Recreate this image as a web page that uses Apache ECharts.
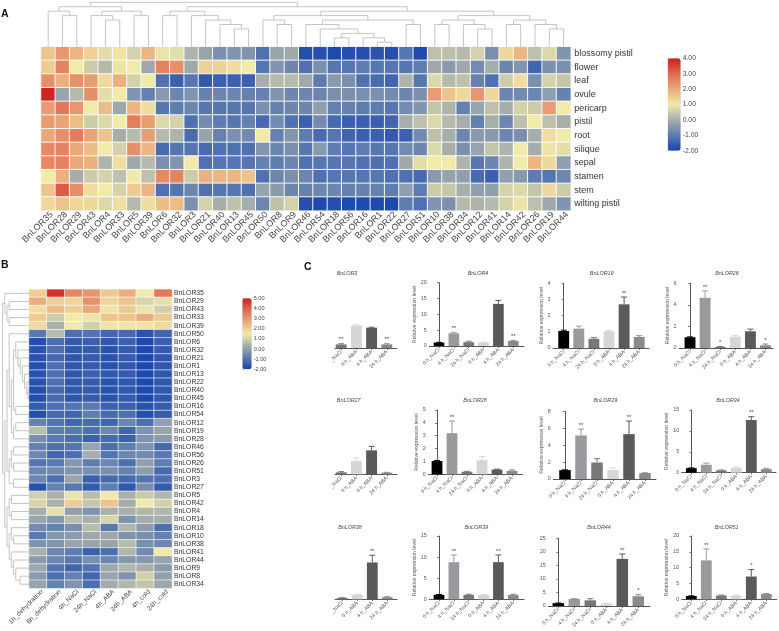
<!DOCTYPE html>
<html><head><meta charset="utf-8">
<script src="https://cdn.jsdelivr.net/npm/echarts@6/dist/echarts.min.js"></script>
<style>html,body{margin:0;padding:0;background:#fff}#c{width:779px;height:631px}</style>
</head><body><div id="c"></div>
<script>
// ---------- Panel A data ----------
const genesA = ["BnLOR35","BnLOR28","BnLOR29","BnLOR43","BnLOR4","BnLOR33","BnLOR5","BnLOR39","BnLOR6","BnLOR32","BnLOR3","BnLOR21","BnLOR40","BnLOR13","BnLOR45","BnLOR50","BnLOR8","BnLOR9","BnLOR46","BnLOR54","BnLOR18","BnLOR56","BnLOR16","BnLOR1","BnLOR22","BnLOR27","BnLOR51","BnLOR10","BnLOR38","BnLOR34","BnLOR12","BnLOR41","BnLOR14","BnLOR42","BnLOR26","BnLOR19","BnLOR44"];
const tissues = ["blossomy pistil","flower","leaf","ovule","pericarp","pistil","root","silique","sepal","stamen","stem","wilting pistil"];
const blossomyPistil = [1.6,2.3,1.8,1.4,0.8,1.1,0.6,1.8,0.9,0.8,0.1,-0.2,-0.6,-0.5,-0.5,-1.2,-0.2,-0.1,-1.8,-1.8,-1.9,-1.8,-1.8,-1.7,-1.8,-1.1,-1.9,0.3,0.3,0.2,0.6,-0.6,1.3,1.8,0.3,0.7,-0.5];
const flower = [1.5,2.6,1.0,0.5,0.2,0.9,1.0,-0.1,2.6,2.4,-0.1,1.4,1.4,1.2,1.0,-1.1,-0.5,-0.8,-1.2,-0.6,-1.1,-1.1,-1.0,-1.1,-1.1,-1.1,-1.0,-0.1,-0.4,-0.1,-0.7,0,-0.8,-0.5,-1.4,-0.6,-0.6];
const leaf = [2.4,1.9,2.4,2.2,1.3,1.9,0.6,1.0,-1.2,-1.5,-1.1,-1.6,-1.5,-1.5,-1.5,0,0.2,0.2,-0.1,-1.0,-0.4,-0.6,-1.2,-1.3,-1.4,0.1,-1.1,0.7,0.2,0.3,-0.9,-1.2,0.5,1.2,-0.6,0.6,0.4];
const ovule = [3.9,-0.2,0.2,2.4,0.8,1.0,-0.5,-0.9,-0.4,-0.8,-0.5,-0.9,-0.8,-0.8,-0.9,-0.9,-0.5,-0.8,-0.8,-0.8,-0.6,-0.6,-0.6,-0.6,-0.7,-0.8,-0.6,2.2,1.6,1.3,2.3,1.3,-0.8,-0.7,-0.8,-0.3,-0.9];
const pericarp = [2.2,2.8,2.3,1.0,1.7,-0.1,1.8,1.2,-1.1,-1.0,-0.8,-1.1,-1.1,-1.1,-1.1,-0.6,-0.9,-0.8,-0.8,-0.3,-0.9,-0.9,-1.0,-1.0,-1.1,-0.7,-0.5,0.4,0.1,-0.9,-0.2,0.3,0,0.6,0.5,2.2,1.0];
const pistil = [2.2,2.1,1.7,0.5,0.7,1.0,2.7,2.2,0.7,0.6,-1.2,-0.7,-1.0,-1.1,-0.9,-1.3,-0.7,-1.2,-1.5,-0.7,-1.3,-1.5,-1.5,-1.5,-1.4,0,0.3,0.7,0.2,0,-0.9,0,-0.8,0.3,1.0,0.3,0];
const root = [2.0,2.4,2.7,2.1,1.6,0,0.2,2.2,0.2,0.1,-1.3,-0.2,-0.9,-0.6,-0.7,1.0,-0.9,-0.5,-1.0,-1.3,-1.1,-1.4,-1.5,-1.5,-1.6,-1.5,-0.7,0.3,0,-0.8,-0.4,-0.4,-0.8,-0.6,0,1.2,1.0];
const silique = [2.5,2.6,2.0,1.7,1.0,0.6,2.4,1.8,-1.3,-1.1,-1.1,-1.3,-1.2,-1.2,-1.2,-0.5,-0.8,-0.6,-1.1,-0.4,-1.0,-1.1,-1.0,-1.1,-1.1,-0.7,-0.8,0.7,0,-0.6,-0.2,0.4,0.1,1.0,0,0.9,0.8];
const sepal = [2.5,2.6,2.0,1.9,0.1,1.2,-0.1,0.2,-0.6,-0.5,1.0,-1.2,-1.1,-1.1,-1.1,-0.9,-1.0,-0.8,-1.2,-1.1,-1.1,-1.1,-1.2,-1.2,-1.2,-0.1,0.8,1.0,1.0,0.1,-1.1,-0.8,0.1,1.0,1.8,1.3,-0.3];
const stamen = [1.0,1.9,0,0.5,0.6,0.3,1.0,0.3,2.5,2.6,0.5,1.9,1.8,1.8,1.6,-1.2,-0.8,-0.6,-0.8,-1.2,-1.1,-1.1,-1.1,-1.1,-1.2,-1.2,-1.3,-0.4,-0.2,-0.3,-1.3,-1.5,-0.3,-0.4,-1.0,-1.1,-0.8];
const stem = [1.6,3.2,2.4,1.2,1.0,0.6,1.5,1.8,-1.2,-1.1,-0.8,-1.2,-1.1,-1.1,-1.2,-0.2,-0.4,-0.8,-0.9,-0.8,-0.8,-0.9,-0.9,-0.9,-1.0,-0.3,-1.0,0.5,0.4,0,-0.3,-0.3,0.6,0.7,0.4,1.3,0.5];
const wiltingPistil = [1.3,1.6,1.3,1.3,0.7,1.2,0.2,1.2,1.7,1.7,-0.6,0.6,0,0.3,0,-0.8,0.3,0.6,-1.8,-1.9,-1.8,-1.9,-1.9,-1.9,-1.9,-1.0,-1.2,-0.5,-0.6,0.2,0.1,0.2,0.6,0.9,0.3,-0.1,-0.5];
const heatA = [blossomyPistil,flower,leaf,ovule,pericarp,pistil,root,silique,sepal,stamen,stem,wiltingPistil];
// dendrogram: [merge level, child, child]; a number is a leaf index
const treeA = [10,
  [9,[8,0,[7,1,2]],[8,[7,3,[6,4,5]],[7,6,7]]],
  [9,[8,[7,8,9],[7,10,[6,11,[5,12,[4,13,14]]]]],
     [8,[7,[6,15,[5,16,17]],[6,[5,18,[4,19,[3,[2,20,21],[2,22,[1,23,24]]]]],[5,25,26]]],
        [7,[6,[5,27,28],[5,29,[4,30,31]]],[6,[5,32,33],[5,34,[4,35,36]]]]]]];
const legendTicksA = [-2,4,1];

// ---------- Panel B data ----------
const genesB = ["BnLOR35","BnLOR29","BnLOR43","BnLOR33","BnLOR39","BnLOR50","BnLOR6","BnLOR32","BnLOR21","BnLOR1","BnLOR13","BnLOR22","BnLOR40","BnLOR45","BnLOR16","BnLOR54","BnLOR12","BnLOR19","BnLOR28","BnLOR46","BnLOR56","BnLOR26","BnLOR51","BnLOR3","BnLOR27","BnLOR5","BnLOR42","BnLOR4","BnLOR14","BnLOR18","BnLOR10","BnLOR38","BnLOR41","BnLOR44","BnLOR9","BnLOR8","BnLOR34"];
const treatments = ["1h_dehydration","6h_dehydration","4h_NaCl","24h_NaCl","4h_ABA","24h_ABA","4h_cold","24h_cold"];
const heatB = [
[2.0,4.7,3.3,3.0,2.1,2.6,1.5,3.6],[2.6,2.0,1.9,3.1,1.9,2.2,1.1,1.3],[1.7,2.3,2.0,2.7,1.6,2.1,1.4,1.0],[2.1,0.9,1.5,1.4,2.2,2.2,2.6,2.1],[1.8,0.4,1.5,1.0,1.6,1.6,1.6,1.8],
[-0.9,0.6,-1.1,-1.0,-1.3,-1.2,-1.7,-1.3],[-1.8,-1.1,-1.5,-1.4,-1.6,-1.4,-1.9,-1.4],[-1.7,-1.1,-1.6,-1.5,-1.7,-1.5,-1.9,-1.5],[-1.7,-1.2,-1.6,-1.5,-1.7,-1.5,-1.9,-1.6],[-1.8,-1.1,-1.6,-1.5,-1.7,-1.6,-1.9,-1.6],
[-1.7,-1.1,-1.6,-1.4,-1.6,-1.5,-1.9,-1.6],[-1.7,-1.1,-1.6,-1.5,-1.7,-1.6,-1.9,-1.6],[-1.8,-1.2,-1.6,-1.5,-1.7,-1.6,-1.9,-1.6],[-1.8,-1.2,-1.6,-1.5,-1.7,-1.5,-1.9,-1.6],[-1.5,-1.1,-1.0,-0.9,-1.4,-1.4,-1.7,-1.5],
[-1.8,-1.2,-1.3,-0.8,-1.2,-1.1,-1.8,-1.5],[-0.7,-1.0,-1.3,-1.2,-1.3,-0.6,-1.1,0.0],[0.6,-0.8,-0.9,-1.1,-0.6,-1.3,-0.3,0.1],[-0.4,-0.9,-1.1,-1.4,-1.2,-1.4,-0.3,-0.1],[-0.7,-1.1,-1.0,0.1,-1.1,-0.8,-0.3,-1.2],
[-0.6,-1.3,-1.1,0.3,-1.0,-0.6,-0.5,-0.9],[-1.0,-0.9,-0.2,-0.8,-0.6,-1.1,0.0,-0.8],[-0.6,-0.5,-0.3,-0.4,-0.4,-0.7,-0.1,-1.2],[-0.6,-1.1,0.1,-1.4,-1.2,-1.2,-1.0,-1.1],[-1.7,-0.7,-0.9,-1.5,-0.8,-1.6,-0.4,-1.5],
[1.0,0.4,1.4,0.6,1.5,0.4,0.9,0.5],[1.1,0.4,2.0,0.8,2.2,0.3,1.5,1.0],[0.3,1.3,0.0,-0.3,0.4,0.4,0.5,0.5],[0.1,-0.2,0.6,0.4,1.1,-0.3,0.3,0.3],[-0.5,-0.7,-0.4,0.6,-0.9,0.5,-0.1,-1.1],
[-0.9,-0.2,-0.1,0.2,0.2,-0.3,-0.4,-0.7],[-0.3,-0.3,0.1,0.1,0.1,0.6,-0.4,-0.6],[0.4,-0.6,-0.8,-1.4,-1.1,0.5,-0.5,1.5],[-0.1,-0.6,-0.9,-0.4,-0.6,-0.2,-0.2,0.1],[0.2,-1.0,-1.3,-1.0,0.2,0.5,0.4,-0.1],
[-0.1,-1.1,-0.7,-1.3,0.1,-0.3,1.0,0.0],[0.1,-0.7,-0.3,-1.1,0.3,0.5,0.8,0.2]];
const treeB = [12,
  [11,0,[10,[9,1,2],[9,3,4]]],
  [11,[10,
        [9,5,[8,[7,[6,6,[5,7,[4,8,[3,9,[2,10,[1,11,[0.5,12,13]]]]]]],[6,14,15]],[7,[6,16,17],18]]],
        [9,[8,[7,19,20],[7,21,22]],[7,23,24]]],
      [10,[9,[8,25,26],[8,27,28]],[9,[8,29,[7,30,31]],[8,32,[7,33,[6,34,[4,35,36]]]]]]]];
const legendTicksB = [-2,5,1];

// ---------- Panel C data ----------
const catsFull = ["0 h_NaCl","4 h_NaCl","24 h_NaCl","0 h_ABA","4 h_ABA","24 h_ABA"];
const catsCut = ["_NaCl","0 h_ABA","4 h_ABA","24 h_ABA"];
const fullIdx = [0,1,2,3,4,5], cutIdx = [2,3,4,5];
const BnLOR3_val=[.16,1,.91,.16],   BnLOR3_err=[.03,.04,.02,.03],  BnLOR3_sig=["**","","","**"];
const BnLOR4_val=[1.1,4,1.2,1.15,13.3,1.6], BnLOR4_err=[.05,.3,.3,.05,1.1,.2], BnLOR4_sig=["","**","","","","**"];
const BnLOR19_val=[1.05,1.2,.57,1.03,2.7,.68], BnLOR19_err=[.05,.15,.07,.05,.45,.08], BnLOR19_sig=["","","","","**",""];
const BnLOR26_val=[1,4.65,.1,1.05,1.55,.25], BnLOR26_err=[.03,.65,.05,.1,.2,.12], BnLOR26_sig=["","**","*","","","*"];
const BnLOR27_val=[.15,1,1.8,.12], BnLOR27_err=[.05,.25,.3,.03], BnLOR27_sig=["","","",""];
const BnLOR28_val=[1.03,3.2,.2,1.1,.37,.27], BnLOR28_err=[.05,.95,.03,.28,.03,.08], BnLOR28_sig=["","**","","","",""];
const BnLOR29_val=[1.05,5.15,1.95,1.05,5.3,.7], BnLOR29_err=[.03,.75,.45,.25,1.55,.03], BnLOR29_sig=["","**","","","**",""];
const BnLOR34_val=[1.1,1.9,.55,1.15,12.6,.85], BnLOR34_err=[.05,.4,.1,.2,.8,.2], BnLOR34_sig=["","","","","**",""];
const BnLOR38_val=[.3,1,7.9,.45], BnLOR38_err=[.05,.08,1.55,.1], BnLOR38_sig=["","","**",""];
const BnLOR39_val=[1.05,8.8,1.05,1.05,8.8,1.05], BnLOR39_err=[.1,1.7,.15,.1,1.7,.15], BnLOR39_sig=["","**","","","**",""];
const BnLOR44_val=[1.05,2.6,2.1,.9,17.4,3.6], BnLOR44_err=[.05,.15,.6,.15,1.8,.6], BnLOR44_sig=["","","","","**","*"];
const BnLOR51_val=[1.05,12.3,1.2,1.15,7.2,1.65], BnLOR51_err=[.05,3.6,.15,.15,2.2,.15], BnLOR51_sig=["","**","","","*",""];

// ---------- Styles / layout ----------
const FONT = '"Liberation Sans", Arial, sans-serif';
const heatStops = ['#1743ad','#5d7cb0','#a6aeab','#f2eaa9','#eba97a','#de6a50','#cf1d1d'];
const barColors = ['#000000','#9a9a9e','#777777','#d6d6d6','#5a5a5a','#8a8a8a'];
const panelC = [
 {t:'BnLOR3', v:BnLOR3_val, e:BnLOR3_err, s:BnLOR3_sig, l:335,r:397,base:348,  h:67, max:3, tc:347,ty:270.5,c0:341.2,st:15.2},
 {t:'BnLOR4', v:BnLOR4_val, e:BnLOR4_err, s:BnLOR4_sig, l:429.3,r:524,base:346,h:63.3,max:20,iv:5,tc:478,ty:270.5,c0:439,st:14.85,yt:1,g:9},
 {t:'BnLOR19',v:BnLOR19_val,e:BnLOR19_err,s:BnLOR19_sig,l:553,r:649,base:348,  h:64.7,max:4,iv:1,tc:601.7,ty:270.5,c0:563.7,st:15.1,yt:1,g:6},
 {t:'BnLOR26',v:BnLOR26_val,e:BnLOR26_err,s:BnLOR26_sig,l:679,r:773,base:348,  h:64.7,max:6,iv:2,tc:727,ty:270.5,c0:690,st:15.1,yt:1,g:6},
 {t:'BnLOR27',v:BnLOR27_val,e:BnLOR27_err,s:BnLOR27_sig,l:335,r:397,base:474.3,h:66.5,max:5,tc:348.7,ty:397.5,c0:341.2,st:15.2},
 {t:'BnLOR28',v:BnLOR28_val,e:BnLOR28_err,s:BnLOR28_sig,l:428.3,r:522.7,base:474.3,h:64.3,max:5,iv:1,tc:475,ty:397.5,c0:437,st:15,yt:1,g:7.5},
 {t:'BnLOR29',v:BnLOR29_val,e:BnLOR29_err,s:BnLOR29_sig,l:553.3,r:656,base:479,h:67.7,max:8,iv:2,tc:605.3,ty:397.5,c0:565,st:16,yt:1,g:6.5},
 {t:'BnLOR34',v:BnLOR34_val,e:BnLOR34_err,s:BnLOR34_sig,l:681.7,r:776,base:472.7,h:62.7,max:15,iv:5,tc:728,ty:397.5,c0:691.3,st:15,yt:1,g:9},
 {t:'BnLOR38',v:BnLOR38_val,e:BnLOR38_err,s:BnLOR38_sig,l:335,r:397,base:599.3,h:70,max:15,tc:350,ty:524.5,c0:342.3,st:15},
 {t:'BnLOR39',v:BnLOR39_val,e:BnLOR39_err,s:BnLOR39_sig,l:429.3,r:524,base:599.3,h:63.3,max:15,iv:5,tc:476.3,ty:524.5,c0:439,st:14.85,yt:1,g:9},
 {t:'BnLOR44',v:BnLOR44_val,e:BnLOR44_err,s:BnLOR44_sig,l:548.3,r:650,base:606,h:67.7,max:25,iv:5,tc:599,ty:524.5,c0:558.3,st:16},
 {t:'BnLOR51',v:BnLOR51_val,e:BnLOR51_err,s:BnLOR51_sig,l:681.7,r:776.7,base:599.3,h:63.3,max:20,iv:5,tc:726.7,ty:524.5,c0:691.3,st:15,yt:1,g:9}
];

// ---------- Helpers ----------
function dendroLinks(tree){
  const links=[];
  (function walk(n){
    if(typeof n==='number') return {p:n+0.5,h:0};
    const a=walk(n[1]), b=walk(n[2]);
    links.push([a.p,a.h,b.p,b.h,n[0]]);
    return {p:(a.p+b.p)/2,h:n[0]};
  })(tree);
  return links;
}
const grids=[],xAxes=[],yAxes=[],series=[],titles=[],visualMaps=[];
function addGrid(g,x,y){grids.push(g);const i=grids.length-1;xAxes.push(Object.assign({gridIndex:i},x));yAxes.push(Object.assign({gridIndex:i},y));return i;}
const hiddenVal=(min,max,extra)=>Object.assign({type:'value',min,max,show:false},extra||{});

function addHeat(box,cols,rows,matrix,xLabel,yLabel,vm){
  const i=addGrid(box,
    {type:'category',data:cols,axisLine:{show:false},axisTick:{show:false},splitLine:{show:false},axisLabel:{show:false}},
    {type:'category',data:rows,inverse:true,position:'right',axisLine:{show:false},axisTick:{show:false},splitLine:{show:false},
     axisLabel:Object.assign({interval:0,color:'#333',fontFamily:FONT},yLabel)});
  // rotated column labels sit slightly right of the column centres
  addGrid(Object.assign({},box,{left:box.left+vm.dx}),
    {type:'category',data:cols,position:'bottom',axisLine:{show:false},axisTick:{show:false},splitLine:{show:false},
     axisLabel:Object.assign({interval:0,rotate:45,color:'#444',fontFamily:FONT},xLabel)},
    hiddenVal(0,1));
  const data=[];matrix.forEach((r,y)=>r.forEach((v,x)=>data.push([x,y,v])));
  series.push({type:'heatmap',xAxisIndex:i,yAxisIndex:i,data,silent:true,itemStyle:{borderColor:'#fff',borderWidth:vm.bw},emphasis:{disabled:true}});
  visualMaps.push({type:'continuous',seriesIndex:series.length-1,min:vm.min,max:vm.max,inRange:{color:heatStops},show:true,calculable:false,hoverLink:false,
    left:vm.left,top:vm.top,itemWidth:vm.w,itemHeight:vm.h,padding:0,text:null,showLabel:false});
  addGrid({left:vm.left,top:vm.top,width:vm.w,height:vm.h},hiddenVal(0,1),
    {type:'value',min:vm.min,max:vm.max,interval:vm.iv,position:'right',splitLine:{show:false},axisLine:{show:false},axisTick:{length:1.5,lineStyle:{color:'#555',width:.6}},
     axisLabel:{margin:2,fontSize:vm.fs,color:'#444',fontFamily:FONT,formatter:v=>v.toFixed(2)}});
}
function addDendro(box,tree,maxL,npos,horizontal){
  const i=horizontal
    ? addGrid(box,hiddenVal(0,npos),hiddenVal(0,maxL))
    : addGrid(box,hiddenVal(0,maxL,{inverse:true}),hiddenVal(0,npos,{inverse:true}));
  series.push({type:'custom',xAxisIndex:i,yAxisIndex:i,silent:true,clip:false,data:dendroLinks(tree),
    renderItem(p,api){
      const c=(pos,h)=>horizontal?api.coord([pos,h]):api.coord([h,pos]);
      const p1=api.value(0),h1=api.value(1),p2=api.value(2),h2=api.value(3),h=api.value(4);
      return {type:'polyline',shape:{points:[c(p1,h1),c(p1,h),c(p2,h),c(p2,h2)]},style:{stroke:'#bdbdbd',lineWidth:.9,fill:null}};
    }});
}

// Panel A
addHeat({left:41,top:46.7,width:529.8,height:164},genesA,tissues,heatA,
  {fontSize:9,margin:2.5},{fontSize:9,margin:3.5},
  {min:legendTicksA[0],max:legendTicksA[1],iv:legendTicksA[2],left:667.7,top:58.3,w:13,h:92.4,fs:6.8,bw:.9,dx:3.5});
addDendro({left:41,top:2.3,width:529.8,height:44.4},treeA,10,37,true);

// Panel B
addHeat({left:29,top:289.3,width:143,height:299},treatments,genesB,heatB,
  {fontSize:6.6,margin:2.5},{fontSize:6.8,margin:2},
  {min:legendTicksB[0],max:legendTicksB[1],iv:legendTicksB[2],left:242.3,top:298.3,w:9.4,h:71,fs:5.6,bw:.6,dx:4});
addDendro({left:2.6,top:289.3,width:26.4,height:299},treeB,12,37,false);

// Panel C
panelC.forEach(c=>{
  const idx = c.v.length===4?cutIdx:fullIdx, names = c.v.length===4?catsCut:catsFull;
  const pos = c.v.map((_,k)=>k);
  const axisStyle={lineStyle:{color:'#444',width:.9}};
  const hasY = !!c.iv;
  const i=addGrid({left:c.l,top:c.base-c.h,width:c.r-c.l,height:c.h},
    {type:'value',min:(c.l-c.c0)/c.st,max:(c.r-c.c0)/c.st,splitLine:{show:false},axisLine:Object.assign({onZero:false},axisStyle),
     axisTick:{customValues:pos,length:2,lineStyle:{color:'#444',width:.7}},
     axisLabel:{customValues:pos,formatter:v=>names[v],rotate:45,fontSize:5.2,color:'#555',margin:3,fontFamily:FONT}},
    hasY?{type:'value',min:0,max:c.max,interval:c.iv,splitLine:{show:false},axisLine:Object.assign({show:true},axisStyle),
      axisTick:{show:true,length:2,lineStyle:{color:'#444',width:.7}},
      axisLabel:{fontSize:5.4,color:'#555',margin:2.5,fontFamily:FONT},
      name:c.yt?'Relative expression level':'',nameLocation:'middle',nameGap:c.g||8,nameTextStyle:{fontSize:5.2,color:'#555',fontFamily:FONT}}
     :{type:'value',min:0,max:c.max,show:false});
  series.push({type:'bar',xAxisIndex:i,yAxisIndex:i,silent:true,barWidth:c.st*0.72,
    data:c.v.map((v,k)=>({value:[k,v],itemStyle:{color:barColors[idx[k]]}}))});
  series.push({type:'custom',xAxisIndex:i,yAxisIndex:i,silent:true,clip:false,z:3,
    data:c.v.map((v,k)=>[k,v,c.e[k]]),
    renderItem(p,api){
      const x=api.value(0),v=api.value(1),e=api.value(2);
      const a=api.coord([x,v]),b=api.coord([x,v+e]);
      const col=barColors[idx[p.dataIndex]];
      const ch=[{type:'line',shape:{x1:a[0],y1:a[1],x2:b[0],y2:b[1]},style:{stroke:col,lineWidth:1}},
                {type:'line',shape:{x1:b[0]-3,y1:b[1],x2:b[0]+3,y2:b[1]},style:{stroke:col,lineWidth:1}}];
      const sig=c.s[p.dataIndex];
      if(sig) ch.push({type:'text',style:{text:sig,x:b[0],y:b[1]-1,align:'center',verticalAlign:'bottom',font:'6px '+FONT,fill:'#444'}});
      return {type:'group',children:ch};
    }});
  titles.push({text:c.t,left:c.tc,top:c.ty,textAlign:'center',padding:0,textStyle:{fontSize:5.4,fontStyle:'italic',fontWeight:'normal',color:'#444',fontFamily:FONT}});
});
const letter=(t,x,y)=>({type:'text',left:x,top:y,style:{text:t,font:'bold 10.5px '+FONT,fill:'#111'}});

const chart=echarts.init(document.getElementById('c'),null,{renderer:'canvas'});
chart.setOption({animation:false,backgroundColor:'#fff',title:titles,tooltip:{show:false},
  grid:grids,xAxis:xAxes,yAxis:yAxes,visualMap:visualMaps,series,
  graphic:[letter('A',1,9),letter('B',1,260),letter('C',304,262)]});
</script></body></html>
